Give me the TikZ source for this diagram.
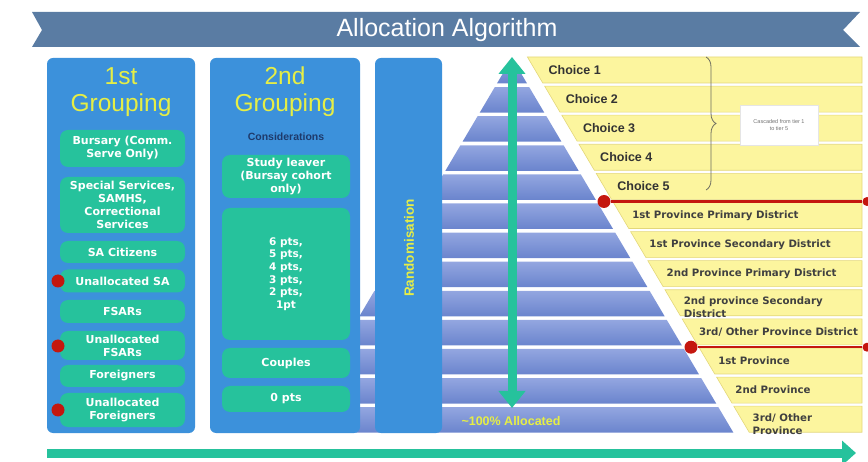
\documentclass[tikz,border=0pt]{standalone}
\usepackage{fontspec}
\setmainfont{Liberation Sans}
\newfontfamily\boxfont{DejaVu Sans}
\usepackage{tikz}
\usetikzlibrary{arrows.meta,decorations.pathreplacing,calc,positioning}

\definecolor{bannerblue}{HTML}{5A7CA3}
\definecolor{colblue}{HTML}{3C91DB}
\definecolor{itemgreen}{HTML}{26C29C}
\definecolor{titleyellow}{HTML}{E6EE45}
\definecolor{barfill}{HTML}{FCF59E}
\definecolor{barline}{HTML}{E3D77A}
\definecolor{layertop}{HTML}{93A6E0}
\definecolor{layerbot}{HTML}{6A84CD}
\definecolor{cutred}{HTML}{C4170F}
\definecolor{navytext}{HTML}{1E3A6B}
\definecolor{bracegrey}{HTML}{6D6D60}

\tikzset{
  column/.style={fill=colblue,rounded corners=6pt,inner sep=0pt},
  grouptitle/.style={text=titleyellow,font=\fontsize{24.5}{27}\selectfont,align=center},
  item/.style={fill=itemgreen,rounded corners=8pt,text=white,inner sep=0pt,
    font=\boxfont\bfseries\fontsize{11}{13}\selectfont,align=center},
  reddot/.style={circle,fill=cutred,inner sep=0pt,minimum size=13pt},
  enddot/.style={circle,fill=cutred,inner sep=0pt,minimum size=9pt},
  bar/.style={fill=barfill,draw=barline,line width=0.6pt},
  choicetext/.style={text=black!80,font=\bfseries\fontsize{12.5}{14}\selectfont},
  provtext/.style={text=black!75,font=\boxfont\bfseries\fontsize{10.2}{13}\selectfont,align=left,inner sep=0pt},
  greenarrow/.style={draw=itemgreen,line width=9pt}
}

\begin{document}
\begin{tikzpicture}[x=1pt,y=-1pt]
\useasboundingbox (0,0) rectangle (868,462);

% banner
\fill[bannerblue] (32,12) -- (860,12) -- (843,30) -- (860,47) -- (32,47) -- (42,30) -- cycle;
\node[text=white,font=\fontsize{25}{28}\selectfont] (banner) at (447,30) {Allocation Algorithm};

% pyramid
\foreach \i in {0,...,12}{
  \pgfmathsetmacro\ya{58+29.1*\i}
  \pgfmathsetmacro\yb{\ya+25.5}
  \pgfmathsetmacro\da{0.591*(\ya-58)}
  \pgfmathsetmacro\db{0.591*(\yb-58)}
  \shade[top color=layertop,bottom color=layerbot]
    ({512-\da},\ya) -- ({512+\da},\ya) -- ({512+\db},\yb) -- ({512-\db},\yb) -- cycle;
}

% choice bars
\foreach \i in {0,...,12}{
  \pgfmathsetmacro\ya{57+29.1*\i}
  \pgfmathsetmacro\yb{\ya+26}
  \pgfmathsetmacro\ym{\ya+13}
  \draw[bar] ({528+0.591*(\ya-58)},\ya) -- (862,\ya) -- (862,\yb)
    -- ({528+0.591*(\yb-58)},\yb) -- cycle;
  \coordinate (bar\i) at ({528+0.591*(\ym-58)},\ym);
}

\node[choicetext,right=10pt of bar0] (choice1) {Choice 1};
\node[choicetext,right=10pt of bar1] (choice2) {Choice 2};
\node[choicetext,right=10pt of bar2] (choice3) {Choice 3};
\node[choicetext,right=10pt of bar3] (choice4) {Choice 4};
\node[choicetext,right=10pt of bar4] (choice5) {Choice 5};
\node[provtext,right=11pt of bar5] (prov1pri) {1st Province Primary District};
\node[provtext,right=11pt of bar6] (prov1sec) {1st Province Secondary District};
\node[provtext,right=11pt of bar7] (prov2pri) {2nd Province Primary District};
\node[provtext,right=11pt of bar8,yshift=-4pt] (prov2sec) {2nd province Secondary\\District};
\node[provtext,right=9pt of bar9] (prov3dis) {3rd/ Other Province District};
\node[provtext,right=11pt of bar10] (prov1) {1st Province};
\node[provtext,right=11pt of bar11] (prov2) {2nd Province};
\node[provtext,right=11pt of bar12,yshift=-5pt] (prov3) {3rd/ Other\\Province};

\coordinate (bracetop) at (706,57);
\coordinate (bracebot) at (706,190);
\draw[bracegrey,line width=0.8pt,decorate,decoration={brace,amplitude=10pt}] (bracetop) -- (bracebot);
\node[fill=white,draw=black!10,minimum width=78pt,minimum height=40pt,
  text=black!55,font=\fontsize{5.5}{7.5}\selectfont,align=center] (tiernote) at (779,125)
  {Cascaded from tier 1\\to tier 5};

% cut-off lines
\node[reddot] (cut1l) at (604,201.5) {};
\node[enddot] (cut1r) at (867,201.5) {};
\node[reddot] (cut2l) at (691,347.2) {};
\node[enddot] (cut2r) at (867,347.2) {};
\draw[cutred,line width=2.5pt] (cut1l) -- (cut1r);
\draw[cutred,line width=2.5pt] (cut2l) -- (cut2r);

% allocation arrow
\coordinate (apex) at (512,57);
\coordinate (allocbot) at (512,408);
\draw[greenarrow,{Triangle[width=26pt,length=17pt]}-{Triangle[width=26pt,length=17pt]}] (apex) -- (allocbot);
\node[text=titleyellow,font=\bfseries\fontsize{12.5}{14}\selectfont] (allocated) at (511,421) {\textasciitilde100\% Allocated};

% groupings
\node[column,minimum width=148pt,minimum height=375pt] (grp1) at (121,245.5) {};
\node[column,minimum width=150pt,minimum height=375pt] (grp2) at (285,245.5) {};
\node[column,minimum width=67pt,minimum height=375pt] (rand) at (408.5,245.5) {};

\node[grouptitle] (grp1title) at (121,92) {1st\\Grouping};
\node[grouptitle] (grp2title) at (285,92) {2nd\\Grouping};
\node[text=navytext,font=\bfseries\fontsize{10.5}{12}\selectfont] (consid) at (286,137) {Considerations};
\node[rotate=90,text=titleyellow,font=\bfseries\fontsize{13.5}{15}\selectfont] (randtext) at (409,248) {Randomisation};

\begin{scope}[every node/.style={item,minimum width=125pt}]
  \node[minimum height=37pt] (bursary) at (122.5,148.5) {Bursary (Comm.\\Serve Only)};
  \node[minimum height=56pt] (special) at (122.5,205) {Special Services,\\SAMHS,\\Correctional\\Services};
  \node[minimum height=22pt] (sacit) at (122.5,252) {SA Citizens};
  \node[minimum height=23pt] (unsa) at (122.5,281) {Unallocated SA};
  \node[minimum height=23pt] (fsars) at (122.5,311.5) {FSARs};
  \node[minimum height=29pt] (unfsars) at (122.5,345.5) {Unallocated\\FSARs};
  \node[minimum height=22pt] (foreign) at (122.5,376) {Foreigners};
  \node[minimum height=34pt] (unforeign) at (122.5,410) {Unallocated\\Foreigners};
\end{scope}

\begin{scope}[every node/.style={item,minimum width=128pt}]
  \node[minimum height=43pt] (study) at (286,176.5) {Study leaver\\(Bursay cohort\\only)};
  \node[minimum height=132pt,font=\boxfont\bfseries\fontsize{10.5}{12.6}\selectfont] (points) at (286,274)
    {6 pts,\\5 pts,\\4 pts,\\3 pts,\\2 pts,\\1pt};
  \node[minimum height=30pt] (couples) at (286,363) {Couples};
  \node[minimum height=26pt] (zeropts) at (286,399) {0 pts};
\end{scope}

\node[reddot] (dotsa) at (58,281) {};
\node[reddot] (dotfsars) at (58,346) {};
\node[reddot] (dotforeign) at (58,410) {};

% overall flow
\coordinate (flowstart) at (47,453);
\coordinate (flowend) at (856,453);
\draw[greenarrow,-{Triangle[width=24pt,length=14pt]}] (flowstart) -- (flowend);
\end{tikzpicture}
\end{document}
